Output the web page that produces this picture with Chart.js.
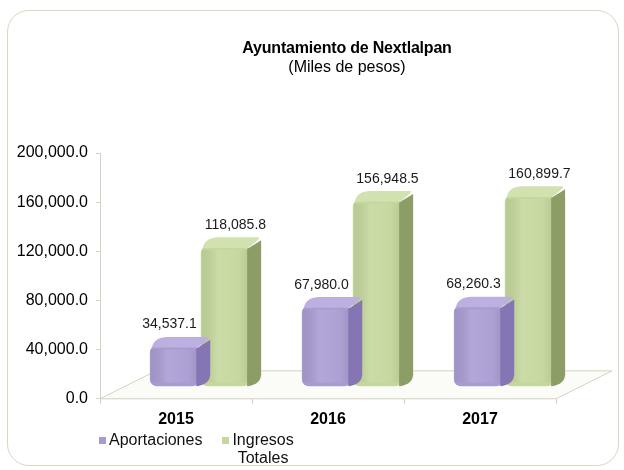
<!DOCTYPE html>
<html>
<head>
<meta charset="utf-8">
<script src="https://cdn.jsdelivr.net/npm/chart.js@4.4.1/dist/chart.umd.min.js"></script>
<style>
	body { margin: 0; background: #fff; font-family: 'Liberation Sans', Arial, sans-serif; }
	#wrap { position: relative; width: 624px; height: 470px; overflow: hidden; }
	#frame {
		position: absolute; left: 7px; top: 10px; width: 612px; height: 456px;
		border: 1px solid #d8d8c4; border-radius: 22px; box-sizing: border-box;
	}
	#chart { position: absolute; left: 0; top: 0; }
	#title { position: absolute; left: 147px; width: 400px; top: 38px; text-align: center; color: #000; font-size: 16px; line-height: 19px; }
	#title b { letter-spacing: -0.2px; }
	#legend { position: absolute; left: 99px; top: 431px; font-size: 16px; color: #111; display: flex; }
	.item { display: flex; align-items: flex-start; margin-right: 20px; }
	.box { width: 7px; height: 7px; margin: 6px 3px 0 0; }
	.txt { line-height: 18px; text-align: center; }
</style>
</head>
<body>
<div id="wrap">
	<div id="frame"></div>
	<canvas id="chart" width="624" height="470"></canvas>
	<div id="title"><b>Ayuntamiento de Nextlalpan</b><br>(Miles de pesos)</div>
	<div id="legend"></div>
</div>
<script>
const years = ['2015', '2016', '2017'];
const aportaciones = [34537.1, 67980.0, 68260.3];
const ingresosTotales = [118085.8, 156948.5, 160899.7];
const yTicks = [0, 40000, 80000, 120000, 160000, 200000];

const colors = {
	purple: '#a99bd1',
	purpleSide: '#8576b3',
	purpleTop: '#bbb0df',
	green: '#c4d79c',
	greenSide: '#8c9d66',
	greenTop: '#d2e1b0',
	axis: '#d4d4c4',
};

const fmt = (v) => v.toLocaleString('en-US', { minimumFractionDigits: 1, maximumFractionDigits: 1 });

// fake 3d look: bars are pushed back onto the floor
const DX = 14;
const DY = 9;
const SHIFT_X = 24;
const SQUASH = 0.97;
const FLOOR_DX = 56;
const FLOOR_DY = 28;

const toScreen = (chart, x, y) => {
	const bottom = chart.chartArea.bottom;
	return [x + SHIFT_X, y * SQUASH + (bottom - 12) - bottom * SQUASH];
};

const bars3d = {
	id: 'bars3d',
	beforeDatasetsDraw(chart) {
		const { ctx, chartArea: a } = chart;
		ctx.save();
		ctx.fillStyle = '#fbfbf8';
		ctx.strokeStyle = colors.axis;
		ctx.lineWidth = 1;
		ctx.beginPath();
		ctx.moveTo(a.left, a.bottom);
		ctx.lineTo(a.left + FLOOR_DX, a.bottom - FLOOR_DY);
		ctx.lineTo(a.right + FLOOR_DX, a.bottom - FLOOR_DY);
		ctx.lineTo(a.right, a.bottom);
		ctx.closePath();
		ctx.fill();
		ctx.stroke();
		ctx.restore();

		ctx.save();
		const bottom = a.bottom;
		ctx.transform(1, 0, 0, SQUASH, SHIFT_X, (bottom - 12) - bottom * SQUASH);
	},
	afterDatasetDraw(chart, args) {
		const { ctx } = chart;
		const i = args.index;
		const side = i === 0 ? colors.purpleSide : colors.greenSide;
		const top = i === 0 ? colors.purpleTop : colors.greenTop;
		args.meta.data.forEach((bar) => {
			const l = bar.x - bar.width / 2;
			const r = bar.x + bar.width / 2;
			ctx.save();
			// shading on the front face
			const g = ctx.createLinearGradient(l, 0, r, 0);
			g.addColorStop(0, 'rgba(0,0,0,0.06)');
			g.addColorStop(0.35, 'rgba(255,255,255,0.12)');
			g.addColorStop(0.75, 'rgba(255,255,255,0.05)');
			g.addColorStop(1, 'rgba(0,0,0,0.08)');
			ctx.fillStyle = g;
			ctx.fillRect(l + 1, bar.y + 4, bar.width - 2, bar.base - bar.y - 8);
			// side face
			ctx.fillStyle = side;
			ctx.beginPath();
			ctx.moveTo(r - 3, bar.y + 3);
			ctx.lineTo(r - 3 + DX, bar.y - DY + 3);
			ctx.lineTo(r - 3 + DX, bar.base - DY - 4);
			ctx.quadraticCurveTo(r - 3 + DX, bar.base - 2, r - 3, bar.base);
			ctx.closePath();
			ctx.fill();
			// top face
			ctx.fillStyle = top;
			ctx.beginPath();
			ctx.moveTo(l + 2, bar.y + 2);
			ctx.quadraticCurveTo(l + 4, bar.y - DY, l + DX + 4, bar.y - DY);
			ctx.lineTo(r + DX - 6, bar.y - DY);
			ctx.quadraticCurveTo(r + DX - 2, bar.y - DY, r - 2, bar.y + 2);
			ctx.closePath();
			ctx.fill();
			ctx.restore();
		});
	},
	afterDatasetsDraw(chart) {
		const { ctx } = chart;
		ctx.restore();
		// value labels
		ctx.save();
		ctx.font = '14px "Liberation Sans", Arial, sans-serif';
		ctx.fillStyle = '#1a1a1a';
		ctx.textAlign = 'center';
		ctx.textBaseline = 'middle';
		chart.data.datasets.forEach((ds, i) => {
			chart.getDatasetMeta(i).data.forEach((bar, j) => {
				const [sx, sy] = toScreen(chart, bar.x, bar.y);
				const x = i === 0 ? sx - 5 : sx + 10;
				ctx.fillText(fmt(ds.data[j]), x, sy - DY - 12);
			});
		});
		ctx.restore();
	},
};

new Chart(document.querySelector('#chart').getContext('2d'), {
	type: 'bar',
	data: {
		labels: years,
		datasets: [
			{
				label: 'Aportaciones',
				data: aportaciones,
				backgroundColor: colors.purple,
				borderRadius: 7,
				borderSkipped: false,
				categoryPercentage: 0.67,
				barPercentage: 0.97,
				clip: false,
			},
			{
				label: 'Ingresos Totales',
				data: ingresosTotales,
				backgroundColor: colors.green,
				borderRadius: 7,
				borderSkipped: false,
				categoryPercentage: 0.67,
				barPercentage: 0.97,
				clip: false,
			},
		],
	},
	options: {
		responsive: false,
		animation: false,
		layout: { padding: { top: 153, right: 68, bottom: 35, left: 4 } },
		plugins: {
			legend: { display: false },
			tooltip: { enabled: false },
		},
		scales: {
			x: {
				grid: { drawOnChartArea: false, offset: true, tickLength: 5, color: colors.axis },
				border: { color: colors.axis },
				ticks: {
					color: '#000',
					padding: 6,
					font: { family: '"Liberation Sans", Arial, sans-serif', size: 16, weight: 'bold' },
				},
			},
			y: {
				min: 0,
				max: 200000,
				afterBuildTicks(scale) {
					scale.ticks = yTicks.map((v) => ({ value: v }));
				},
				afterFit(scale) {
					scale.width = 96;
				},
				grid: { drawOnChartArea: false, tickLength: 4, color: colors.axis },
				border: { color: colors.axis },
				ticks: {
					color: '#000',
					padding: 8,
					font: { family: '"Liberation Sans", Arial, sans-serif', size: 16 },
					callback: (v) => fmt(v),
				},
			},
		},
	},
	plugins: [bars3d],
});

// legend below the chart
const legend = document.querySelector('#legend');
[
	{ text: 'Aportaciones', color: colors.purple },
	{ text: 'Ingresos<br>Totales', color: colors.green },
].forEach((it) => {
	const el = document.createElement('div');
	el.className = 'item';
	el.innerHTML = `<span class="box" style="background:${it.color}"></span><span class="txt">${it.text}</span>`;
	legend.appendChild(el);
});
</script>
</body>
</html>
